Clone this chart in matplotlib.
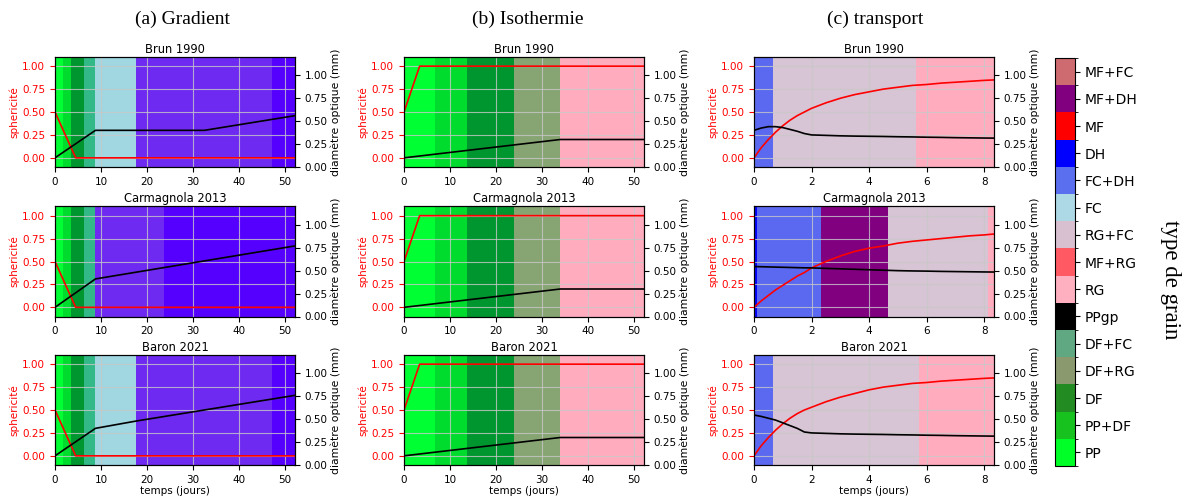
import matplotlib
matplotlib.use("Agg")
import matplotlib.pyplot as plt
from matplotlib.colors import ListedColormap, BoundaryNorm
from matplotlib.cm import ScalarMappable
import numpy as np

# ---- grain types of the colour bar (bottom to top) ----
grain_types = ['PP', 'PP+DF', 'DF', 'DF+RG', 'DF+FC', 'PPgp', 'RG', 'MF+RG',
               'RG+FC', 'FC', 'FC+DH', 'DH', 'MF', 'MF+DH', 'MF+FC']
grain_colors = ['#00ff26', '#17c21f', '#228b22', '#8a9a6e', '#5fa882', '#000000',
                '#ffb0c0', '#ff5a64', '#d8c0d0', '#add8e6', '#5a6ef0', '#0000ff',
                '#ff0000', '#800080', '#cd6b70']

# colours of the background bands as seen in the panels
band_colors = {'PP': '#00ff33', 'PP+DF': '#00dc2d', 'DF': '#00962f',
               'DF+FC': '#32b987', 'DF+RG': '#87a573', 'FC': '#a0d7e1',
               'FC/DH': '#6e2af0', 'DH*': '#5500ff', 'FC+DH': '#5a69f0',
               'DH': '#0000ff', 'MF+DH': '#800080', 'RG+FC': '#d7c4d4',
               'RG': '#ffacbf'}

models = ['Brun 1990', 'Carmagnola 2013', 'Baron 2021']
columns = ['(a) Gradient', '(b) Isothermie', '(c) transport']
xmax_long = 52.2
xmax_short = 8.34

# ---- (a) Gradient ----
grad_edges = [
    [0, 1.7, 3.5, 6.2, 8.8, 17.7, 47.2, 52.2],
    [0, 1.7, 3.5, 6.2, 8.8, 23.6, 52.2],
    [0, 1.7, 3.5, 6.2, 8.8, 17.7, 47.2, 52.2],
]
grad_types = [
    ['PP', 'PP+DF', 'DF', 'DF+FC', 'FC', 'FC/DH', 'DH*'],
    ['PP', 'PP+DF', 'DF', 'DF+FC', 'FC/DH', 'DH*'],
    ['PP', 'PP+DF', 'DF', 'DF+FC', 'FC', 'FC/DH', 'DH*'],
]
grad_sph_t = [0, 4.5, 52.2]
grad_sph = [0.5, 0.0, 0.0]
grad_diam_t = [
    [0, 8.8, 32.5, 52.2],
    [0, 8.8, 52.2],
    [0, 8.8, 17.7, 52.2],
]
grad_diam = [
    [0.10, 0.40, 0.40, 0.56],
    [0.10, 0.41, 0.77],
    [0.10, 0.40, 0.48, 0.76],
]

# ---- (b) Isothermie ----
iso_edges = [0, 6.8, 13.7, 23.9, 34.0, 52.2]
iso_types = ['PP', 'PP+DF', 'DF', 'DF+RG', 'RG']
iso_sph_t = [0, 3.4, 52.2]
iso_sph = [0.5, 1.0, 1.0]
iso_diam_t = [0, 34.0, 52.2]
iso_diam = [0.10, 0.30, 0.30]

# ---- (c) transport ----
tr_edges = [
    [0, 0.65, 5.63, 8.34],
    [0, 0.12, 2.33, 4.67, 8.12, 8.34],
    [0, 0.65, 5.74, 8.34],
]
tr_types = [
    ['FC+DH', 'RG+FC', 'RG'],
    ['DH', 'FC+DH', 'MF+DH', 'RG+FC', 'RG'],
    ['FC+DH', 'RG+FC', 'RG'],
]
tr_t = [0, 0.25, 0.5, 0.75, 1.0, 1.25, 1.5, 1.75, 2.0, 2.5, 3.0, 3.5, 4.0, 4.5,
        5.0, 5.5, 6.0, 6.5, 7.0, 7.5, 8.0, 8.34]
tr_sph = [
    [0.0, 0.11, 0.20, 0.28, 0.35, 0.41, 0.46, 0.50, 0.54, 0.60, 0.65, 0.69, 0.72, 0.75,
     0.77, 0.79, 0.80, 0.815, 0.825, 0.835, 0.845, 0.85],
    [0.0, 0.07, 0.13, 0.19, 0.24, 0.29, 0.34, 0.38, 0.43, 0.50, 0.56, 0.61, 0.645, 0.67,
     0.70, 0.72, 0.735, 0.75, 0.765, 0.78, 0.79, 0.80],
    [0.0, 0.11, 0.20, 0.28, 0.35, 0.41, 0.46, 0.50, 0.53, 0.59, 0.64, 0.68, 0.72, 0.75,
     0.77, 0.79, 0.80, 0.815, 0.825, 0.835, 0.845, 0.85],
]
tr_diam = [
    [0.40, 0.425, 0.44, 0.44, 0.43, 0.41, 0.39, 0.365, 0.35, 0.345, 0.34, 0.337, 0.335, 0.333,
     0.33, 0.328, 0.325, 0.323, 0.32, 0.318, 0.316, 0.315],
    [0.545, 0.543, 0.541, 0.539, 0.537, 0.535, 0.533, 0.531, 0.53, 0.525, 0.52, 0.515, 0.51,
     0.505, 0.50, 0.497, 0.495, 0.492, 0.49, 0.488, 0.486, 0.485],
    [0.545, 0.53, 0.51, 0.49, 0.46, 0.43, 0.40, 0.36, 0.35, 0.345, 0.34, 0.337, 0.335, 0.333,
     0.33, 0.328, 0.325, 0.323, 0.32, 0.318, 0.316, 0.315],
]

fig = plt.figure(figsize=(11.89, 4.96), dpi=100)

col_left = [55 / 1189, 404 / 1189, 754 / 1189]
ax_w = 240 / 1189
row_bottom = [1 - 167 / 496, 1 - 316.5 / 496, 1 - 465 / 496]
ax_h = 110 / 496
fs = 7.5


def draw_panel(ax, edges, types, sph_t, sph, diam_t, diam, xmax, xticks, title, bottom):
    for i, gt in enumerate(types):
        ax.axvspan(edges[i], edges[i + 1], color=band_colors[gt], lw=0)
    ax.plot(sph_t, sph, color='red', lw=1.2)
    ax.set_xlim(0, xmax)
    ax.set_ylim(-0.1, 1.1)
    ax.set_yticks([0, 0.25, 0.5, 0.75, 1.0])
    ax.set_xticks(xticks)
    ax.grid(True, color='#c8c8c8', lw=0.8, alpha=0.8)
    ax.tick_params(axis='y', colors='red', labelsize=fs)
    ax.tick_params(axis='x', labelsize=fs)
    ax.set_ylabel('sphericité', color='red', fontsize=fs, labelpad=2)
    ax.set_title(title, fontsize=8.3, pad=3)
    if bottom:
        ax.set_xlabel('temps (jours)', fontsize=fs, labelpad=1)
    ax2 = ax.twinx()
    ax2.plot(diam_t, diam, color='black', lw=1.2)
    ax2.set_ylim(0, 1.2)
    ax2.set_yticks([0, 0.25, 0.5, 0.75, 1.0])
    ax2.tick_params(axis='y', labelsize=fs)
    ax2.set_ylabel('diamètre optique (mm)', fontsize=7.8, labelpad=2)


for r in range(3):
    ax = fig.add_axes([col_left[0], row_bottom[r], ax_w, ax_h])
    draw_panel(ax, grad_edges[r], grad_types[r], grad_sph_t, grad_sph,
               grad_diam_t[r], grad_diam[r], xmax_long, range(0, 51, 10), models[r], r == 2)
    ax = fig.add_axes([col_left[1], row_bottom[r], ax_w, ax_h])
    draw_panel(ax, iso_edges, iso_types, iso_sph_t, iso_sph,
               iso_diam_t, iso_diam, xmax_long, range(0, 51, 10), models[r], r == 2)
    ax = fig.add_axes([col_left[2], row_bottom[r], ax_w, ax_h])
    draw_panel(ax, tr_edges[r], tr_types[r], tr_t, tr_sph[r],
               tr_t, tr_diam[r], xmax_short, range(0, 9, 2), models[r], r == 2)

# column headers
for x, txt in zip([182, 528, 875], columns):
    fig.text(x / 1189, 1 - 19 / 496, txt, ha='center', va='center',
             fontsize=14, family='Liberation Serif')

# colour bar
n = len(grain_types)
cmap = ListedColormap(grain_colors)
norm = BoundaryNorm(np.arange(n + 1), n)
cax = fig.add_axes([1055 / 1189, 1 - 466 / 496, 20 / 1189, 408 / 496])
cb = fig.colorbar(ScalarMappable(norm=norm, cmap=cmap), cax=cax)
cb.set_ticks(np.arange(n) + 0.5)
cb.set_ticklabels(grain_types)
cb.ax.tick_params(labelsize=10)
fig.text(1170 / 1189, 1 - 280 / 496, 'type de grain', rotation=270, ha='center',
         va='center', fontsize=16.5, family='Liberation Serif')

plt.savefig('out.png', dpi=100)
plt.close()
